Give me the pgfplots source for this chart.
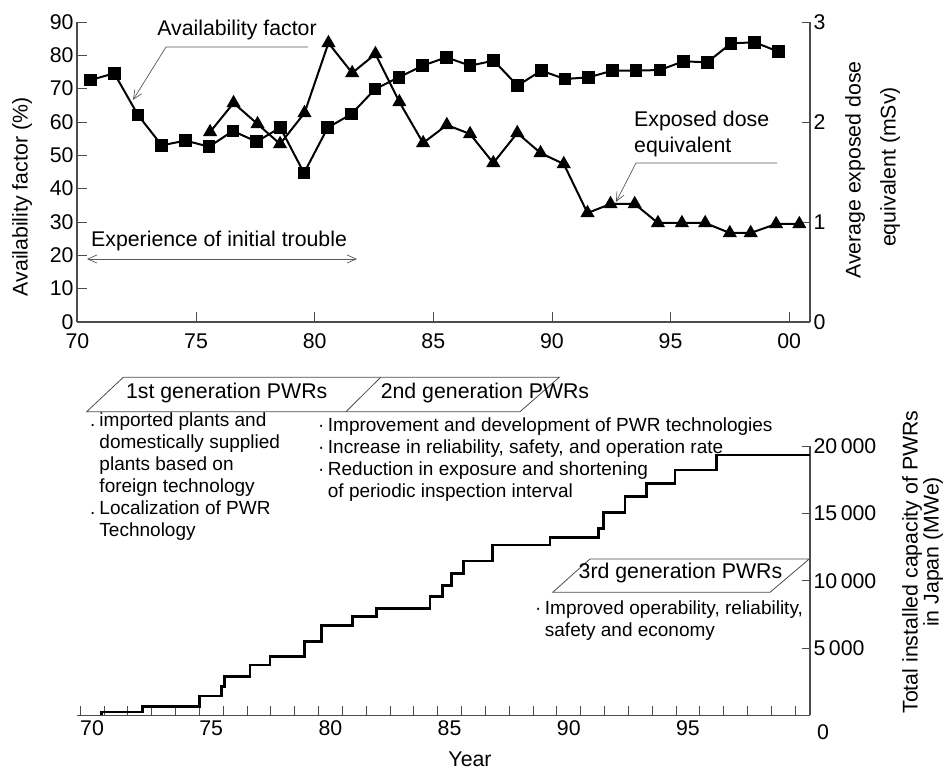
\documentclass[border=0pt]{standalone}
\usepackage{pgfplots}
\pgfplotsset{compat=1.18}
\usepackage{fontspec}
\setmainfont{Liberation Sans}
\usetikzlibrary{arrows.meta}

\definecolor{axgray}{gray}{0.3}
\definecolor{notegray}{gray}{0.35}

\newcommand\lbl{\fontsize{21.3bp}{25bp}\selectfont}
\newcommand\sml{\fontsize{19bp}{22bp}\selectfont}

\pgfplotsset{
  pwrbase/.style={
    scale only axis, width=733bp,
    axis line style={axgray, line width=1.2bp},
    tick style={axgray, line width=0.8bp},
    tick align=inside,
    font=\lbl,
    /pgf/number format/assume math mode=true,
    scaled ticks=false,
    clip=false,
  },
}

\begin{document}
\begin{tikzpicture}
\path[use as bounding box] (0,0) rectangle (945bp,771bp);

% availability factor (left scale)
\begin{axis}[pwrbase, at={(77bp,449bp)}, anchor=south west, height=300bp,
  xmin=69.98, xmax=100.88, ymin=0, ymax=90,
  axis x line*=bottom, axis y line*=left,
  xtick align=inside, ytick align=inside,
  xtick={70,75,...,100}, xticklabels={70,75,80,85,90,95,00},
  xticklabel style={yshift=-8bp},
  ytick={0,10,...,90},
  major tick length=10bp,
]
\addplot[black, line width=2bp, mark=square*, mark size=5.3bp] coordinates {
  (70.55,72.6) (71.55,74.6) (72.55,62.1) (73.55,53.0) (74.55,54.4)
  (75.55,52.6) (76.55,57.3) (77.55,54.1) (78.55,58.3) (79.55,44.7)
  (80.55,58.3) (81.55,62.4) (82.55,69.9) (83.55,73.4) (84.55,76.9)
  (85.55,79.4) (86.55,76.9) (87.55,78.4) (88.55,70.9) (89.55,75.4)
  (90.55,72.9) (91.55,73.4) (92.55,75.4) (93.55,75.4) (94.55,75.6)
  (95.55,78.2) (96.55,77.9) (97.55,83.6) (98.55,83.9) (99.55,81.1)
};
\end{axis}

% exposed dose (right scale)
\begin{axis}[pwrbase, at={(77bp,449bp)}, anchor=south west, height=300bp,
  xmin=69.98, xmax=100.88, ymin=0, ymax=3,
  axis x line=none, axis y line*=right, ytick align=inside,
  ytick={0,1,2,3},
  major tick length=8bp,
]
\addplot[black, line width=2bp, mark=triangle*, mark size=6.2bp] coordinates {
  (75.59,1.90) (76.58,2.19) (77.59,1.98) (78.54,1.78) (79.57,2.09)
  (80.58,2.79) (81.58,2.49) (82.56,2.68) (83.57,2.20) (84.57,1.79)
  (85.57,1.97) (86.55,1.88) (87.53,1.59) (88.54,1.89) (89.52,1.69)
  (90.50,1.58) (91.50,1.09) (92.47,1.18) (93.49,1.18) (94.47,0.99)
  (95.48,0.99) (96.46,0.99) (97.50,0.89) (98.38,0.89) (99.45,0.98)
  (100.43,0.98)
};
\end{axis}

% installed capacity
\begin{axis}[pwrbase, at={(77bp,55.5bp)}, anchor=south west, height=269.5bp,
  xmin=69.37, xmax=100.12, ymin=0, ymax=20000,
  axis x line*=bottom, axis y line*=right,
  xtick align=inside, ytick align=inside,
  xtick={70,75,...,95}, major x tick style={draw=none},
  xticklabel style={yshift=-2bp},
  minor xtick={69.5,70.5,...,99.5}, minor tick length=9bp,
  ytick={5000,10000,15000,20000},
  yticklabels={5\,000,10\,000,15\,000,20\,000},
  major tick length=8bp,
]
\addplot[black, line width=2.6bp, const plot] coordinates {
  (70.41,0) (70.41,250) (72.13,655) (74.50,1447) (75.44,2139) (75.55,2881)
  (76.63,3747) (77.47,4365) (78.91,5478) (79.63,6665) (80.92,7333)
  (81.94,7954) (84.18,8817) (84.71,9633) (85.09,10551) (85.58,11464)
  (86.81,12651) (89.21,13195) (91.24,13890) (91.45,15050) (92.36,16237)
  (93.27,17229) (94.46,18216) (96.20,19329) (100.12,19329)
};
\end{axis}

\begin{scope}[x=1bp, y=-1bp, yshift=771bp, font=\lbl]
  % axis titles
  \node[rotate=90] at (22,197) {Availability factor (\%)};
  \node[rotate=90] at (855,170) {Average exposed dose};
  \node[rotate=90] at (890,167) {equivalent (mSv)};
  \node[rotate=90] at (912,562) {Total installed capacity of PWRs};
  \node[rotate=90] at (933,552) {in Japan (MWe)};
  \node at (470,759) {Year};
  \node at (823,732) {0};

  % notes in the upper chart
  \node at (237,30) {Availability factor};
  \draw[notegray, line width=0.7bp, -{Straight Barb[length=9bp,width=8bp]}]
    (308,47) -- (166,47) -- (133,100);
  \node[anchor=west, inner sep=0] at (91,241) {Experience of initial trouble};
  \draw[notegray, line width=0.7bp, {Straight Barb[length=9bp,width=8bp]}-{Straight Barb[length=9bp,width=8bp]}]
    (87,259) -- (357,259);
  \node[anchor=west, inner sep=0, align=left, font=\fontsize{21.3bp}{26bp}\selectfont]
    at (634,134) {Exposed dose\\equivalent};
  \draw[notegray, line width=0.7bp, -{Straight Barb[length=9bp,width=8bp]}]
    (777,163) -- (636,163) -- (616,202);

  % generation boxes
  \draw[axgray, line width=0.8bp]
    (86.7,411.7) -- (520,411.7) -- (559.3,377.3) -- (123.3,377.3) -- cycle;
  \draw[axgray, line width=0.8bp] (346,411.7) -- (380.7,377.3);
  \node at (226.7,393.3) {1st generation PWRs};
  \node at (485,393.3) {2nd generation PWRs};
  \draw[axgray, line width=0.8bp]
    (552.7,592.3) -- (770,592.3) -- (809.3,559) -- (590,559) -- cycle;
  \node at (680.5,572.7) {3rd generation PWRs};

  % bullet texts
  \node[anchor=north west, inner sep=0, font=\sml] at (90,410.6) {%
    \begin{tabular}{@{}l@{\hspace{4bp}}l@{}}
    . & imported plants and\\
      & domestically supplied\\
      & plants based on\\
      & foreign technology\\
    . & Localization of PWR\\
      & Technology
    \end{tabular}};
  \node[anchor=north west, inner sep=0, font=\sml] at (318,416.3) {%
    \begin{tabular}{@{}l@{\hspace{3.4bp}}l@{}}
    · & Improvement and development of PWR technologies\\
    · & Increase in reliability, safety, and operation rate\\
    · & Reduction in exposure and shortening\\
      & of periodic inspection interval
    \end{tabular}};
  \node[anchor=north west, inner sep=0, font=\sml] at (535,598.9) {%
    \begin{tabular}{@{}l@{\hspace{3.4bp}}l@{}}
    · & Improved operability, reliability,\\
      & safety and economy
    \end{tabular}};
\end{scope}
\end{tikzpicture}
\end{document}
